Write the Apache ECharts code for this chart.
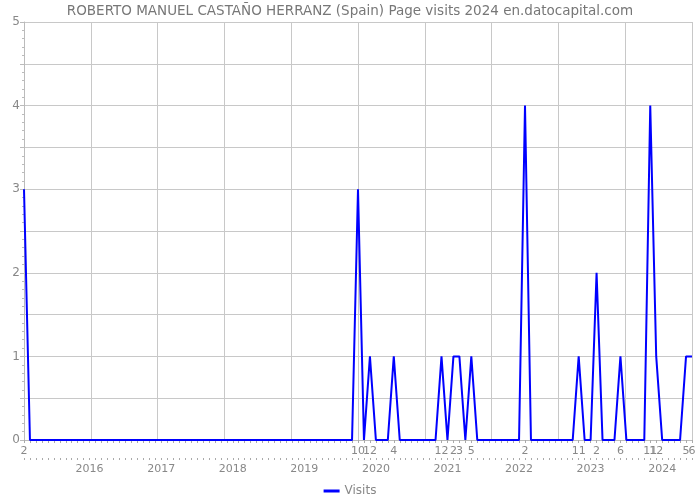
<!DOCTYPE html>
<html>
<head>
<meta charset="utf-8">
<script src="https://cdn.jsdelivr.net/npm/echarts@6/dist/echarts.min.js"></script>
<style>html,body{margin:0;padding:0;background:#fff}#c{width:700px;height:500px}</style>
</head>
<body>
<div id="c"></div>
<script>
// Monthly page visits, Feb 2015 .. Jun 2024
const startYear = 2015, startMonth = 2;
const visits2015 = [3,0,0,0,0,0,0,0,0,0,0]; // Feb-Dec
const visits2016 = [0,0,0,0,0,0,0,0,0,0,0,0];
const visits2017 = [0,0,0,0,0,0,0,0,0,0,0,0];
const visits2018 = [0,0,0,0,0,0,0,0,0,0,0,0];
const visits2019 = [0,0,0,0,0,0,0,0,0,3,0,1];
const visits2020 = [0,0,0,1,0,0,0,0,0,0,0,1];
const visits2021 = [0,1,1,0,1,0,0,0,0,0,0,0];
const visits2022 = [0,4,0,0,0,0,0,0,0,0,1,0];
const visits2023 = [0,2,0,0,0,1,0,0,0,0,4,1];
const visits2024 = [0,0,0,0,1,1]; // Jan-Jun
const visits = [].concat(visits2015, visits2016, visits2017, visits2018, visits2019,
  visits2020, visits2021, visits2022, visits2023, visits2024);

const yTickLabels = ['0','1','2','3','4','5'];
const seriesName = 'Visits';
const titleText = 'ROBERTO MANUEL CASTAÑO HERRANZ (Spain) Page visits 2024 en.datocapital.com';

// categories (one per month)
const categories = [];
for (let i = 0; i < visits.length; i++) {
  const m0 = startMonth - 1 + i;
  const y = startYear + Math.floor(m0 / 12);
  const m = (m0 % 12) + 1;
  categories.push(y + '-' + (m < 10 ? '0' + m : m));
}
// month tick labels: shown at first point and where there were visits
const monthLabels = categories.map((c, i) => (i === 0 || visits[i] > 0) ? String(parseInt(c.slice(5), 10)) : '');
// year tick labels at January
const yearLabels = categories.map(c => c.slice(5) === '01' ? c.slice(0, 4) : '');

const FONT = 'DejaVu Sans';
const chart = echarts.init(document.getElementById('c'), null, {renderer: 'canvas'});
chart.setOption({
  animation: false,
  backgroundColor: '#ffffff',
  title: {
    text: titleText, left: 'center', top: 2, padding: [2, 0, 2, 8],
    textStyle: {fontSize: 13.5, fontWeight: 'normal', color: '#777', fontFamily: FONT}
  },
  legend: {
    bottom: 3, left: 'center', padding: 0, icon: 'rect', itemWidth: 16, itemHeight: 3,
    textStyle: {color: '#888', fontSize: 12, fontFamily: FONT},
    data: [seriesName]
  },
  grid: {left: 24, right: 8, top: 22, bottom: 60, containLabel: false},
  xAxis: [
    {
      type: 'value', min: 0, max: visits.length - 1, interval: (visits.length - 1) / 10,
      axisLabel: {show: false}, axisTick: {show: false}, axisLine: {show: false},
      splitLine: {show: true, lineStyle: {color: '#c8c8c8', width: 1}}
    },
    {
      type: 'category', data: categories, boundaryGap: false, position: 'bottom',
      axisLine: {show: true, lineStyle: {color: '#bbb'}},
      axisTick: {show: true, interval: 0, length: 3, lineStyle: {color: '#aaa'}},
      axisLabel: {interval: 0, margin: 6, color: '#888', fontSize: 11, fontFamily: FONT,
        formatter: (v, i) => monthLabels[i]},
      splitLine: {show: false}
    },
    {
      type: 'category', data: categories, boundaryGap: false, position: 'bottom', offset: 18,
      axisLine: {show: false},
      axisTick: {show: true, interval: 0, length: 2, lineStyle: {color: '#aaa'}},
      axisLabel: {interval: 0, margin: 6, color: '#888', fontSize: 11, fontFamily: FONT,
        formatter: (v, i) => yearLabels[i]},
      splitLine: {show: false}
    }
  ],
  yAxis: {
    type: 'value', min: 0, max: 5, interval: 0.5,
    axisLine: {show: true, lineStyle: {color: '#bbb'}},
    axisTick: {show: true, length: 4, lineStyle: {color: '#bbb'}},
    minorTick: {show: true, splitNumber: 5, length: 2, lineStyle: {color: '#bbb'}},
    axisLabel: {margin: 4, color: '#888', fontSize: 12, fontFamily: FONT,
      formatter: v => Number.isInteger(v) ? yTickLabels[v] : ''},
    splitLine: {show: true, lineStyle: {color: '#c8c8c8', width: 1}}
  },
  series: [{
    name: seriesName, type: 'line', xAxisIndex: 0,
    data: visits.map((v, i) => [i, v]),
    symbol: 'none', showSymbol: false,
    lineStyle: {color: '#0000ff', width: 2}, itemStyle: {color: '#0000ff'}
  }]
});
</script>
</body>
</html>
